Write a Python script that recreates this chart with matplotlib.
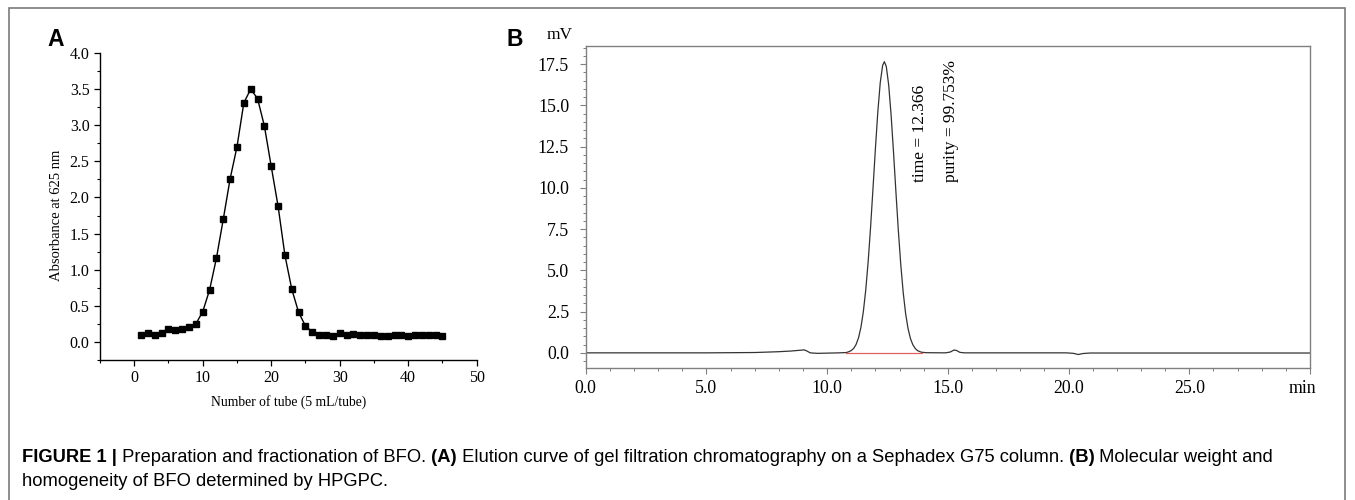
import matplotlib
matplotlib.use("Agg")
import matplotlib.pyplot as plt
import matplotlib.transforms as mtransforms
from matplotlib.ticker import MultipleLocator, FixedLocator, FormatStrFormatter
from matplotlib.patches import Rectangle

# ---------------- data ----------------
tube_numbers = list(range(1, 46))
absorbance = [0.09, 0.13, 0.09, 0.12, 0.18, 0.16, 0.18, 0.20, 0.25, 0.42,
              0.72, 1.16, 1.70, 2.26, 2.70, 3.31, 3.50, 3.37, 2.99, 2.43,
              1.88, 1.20, 0.73, 0.41, 0.22, 0.14, 0.09, 0.09, 0.08, 0.12,
              0.09, 0.11, 0.09, 0.09, 0.09, 0.08, 0.08, 0.09, 0.09, 0.08,
              0.09, 0.09, 0.10, 0.09, 0.08]

hpgpc_time = [0.0, 5.0, 7.0, 8.0, 8.5, 8.9, 9.05, 9.15, 9.3, 9.6, 10.5,
              10.8, 10.9, 11.0, 11.1, 11.2, 11.3, 11.4, 11.5, 11.6, 11.7,
              11.8, 11.9, 12.0, 12.1, 12.2, 12.3, 12.37, 12.45, 12.55, 12.65,
              12.75, 12.85, 12.95, 13.05, 13.15, 13.25, 13.35, 13.45, 13.55,
              13.65, 13.75, 13.9, 14.1, 14.9, 15.1, 15.25, 15.35, 15.5, 15.7,
              19.9, 20.2, 20.4, 20.6, 20.9, 30.0]
hpgpc_mv = [0.0, 0.0, 0.02, 0.07, 0.11, 0.16, 0.18, 0.12, 0.0, -0.03, 0.0,
            0.02, 0.07, 0.14, 0.27, 0.51, 0.91, 1.55, 2.50, 3.82, 5.54,
            7.63, 9.98, 12.39, 14.62, 16.38, 17.43, 17.65, 17.36, 16.23, 14.41,
            12.15, 9.73, 7.40, 5.35, 3.67, 2.39, 1.48, 0.87, 0.49,
            0.26, 0.13, 0.04, 0.01, 0.0, 0.05, 0.17, 0.15, 0.03, 0.0,
            0.0, -0.03, -0.10, -0.04, -0.01, -0.01]
baseline_start, baseline_end = 10.8, 13.95
peak_time_label = "time = 12.366"
purity_label = "purity = 99.753%"

a_xticks = [0, 10, 20, 30, 40, 50]
a_yticks = [0.0, 0.5, 1.0, 1.5, 2.0, 2.5, 3.0, 3.5, 4.0]
b_xticks = [0, 5, 10, 15, 20, 25, 30]
b_xticklabels = ["0.0", "5.0", "10.0", "15.0", "20.0", "25.0", "min"]
b_yticks = [0.0, 2.5, 5.0, 7.5, 10.0, 12.5, 15.0, 17.5]

caption_line1 = [("FIGURE 1 |", True),
                 (" Preparation and fractionation of BFO.", False),
                 (" (A)", True),
                 (" Elution curve of gel filtration chromatography on a Sephadex G75 column.", False),
                 (" (B)", True),
                 (" Molecular weight and", False)]
caption_line2 = "homogeneity of BFO determined by HPGPC."

# ---------------- figure ----------------
W, H = 1355, 500
fig = plt.figure(figsize=(W / 100, H / 100), dpi=100)
serif = ["Liberation Serif", "DejaVu Serif"]
sans = ["Liberation Sans", "DejaVu Sans"]

def fx(px):
    return px / W

def fy(py):
    return 1 - py / H

# outer frame
fig.patches.append(Rectangle((fx(9), fy(520)), fx(1345) - fx(9), fy(8) - fy(520),
                             transform=fig.transFigure, fill=False,
                             edgecolor="#7a7a7a", lw=1.2, clip_on=False))

# ---------- panel A ----------
axA = fig.add_axes([fx(100), fy(360), fx(476.7) - fx(100), fy(53) - fy(360)])
axA.plot(tube_numbers, absorbance, color="black", lw=1.0, marker="s",
         markersize=4.2, markerfacecolor="black", markeredgecolor="black")
axA.set_xlim(-5, 50)
axA.set_ylim(-0.25, 4.0)
axA.spines["top"].set_visible(False)
axA.spines["right"].set_visible(False)
for s in ("left", "bottom"):
    axA.spines[s].set_linewidth(1.0)
axA.xaxis.set_major_locator(FixedLocator(a_xticks))
axA.xaxis.set_minor_locator(MultipleLocator(5))
axA.yaxis.set_major_locator(FixedLocator(a_yticks))
axA.yaxis.set_minor_locator(MultipleLocator(0.25))
axA.yaxis.set_major_formatter(FormatStrFormatter("%.1f"))
axA.tick_params(which="major", direction="out", length=4.5, width=0.9, pad=3)
axA.tick_params(which="minor", direction="out", length=2.5, width=0.8)
for lab in axA.get_xticklabels() + axA.get_yticklabels():
    lab.set_family(serif)
    lab.set_fontsize(11.5)
axA.set_xlabel("Number of tube (5 mL/tube)", family=serif, fontsize=9.8)
axA.set_ylabel("Absorbance at 625 nm", family=serif, fontsize=10.5)
axA.xaxis.set_label_coords(0.5, (360 - 402) / 307, transform=axA.transAxes)
axA.yaxis.set_label_coords((57 - 100) / 376.7, 0.5 - (215.5 - 206.5) / 307)
axA.xaxis.label.set_va("center")
axA.yaxis.label.set_va("center")
fig.text(fx(47), fy(40), "A", family=sans, fontweight="bold", fontsize=16.5,
         ha="left", va="center")

# ---------- panel B ----------
axB = fig.add_axes([fx(585.7), fy(367.7), fx(1310) - fx(585.7), fy(46) - fy(367.7)])
axB.plot(hpgpc_time, hpgpc_mv, color="#333333", lw=0.9)
axB.plot([baseline_start, baseline_end], [0, 0], color="#e06060", lw=0.9)
axB.set_xlim(0, 30)
axB.set_ylim(-0.9, 18.6)
for s in axB.spines.values():
    s.set_color("#808080")
    s.set_linewidth(1.0)
axB.xaxis.set_major_locator(FixedLocator(b_xticks))
axB.set_xticklabels(b_xticklabels)
axB.xaxis.set_minor_locator(MultipleLocator(1))
axB.yaxis.set_major_locator(FixedLocator(b_yticks))
axB.yaxis.set_major_formatter(FormatStrFormatter("%.1f"))
axB.yaxis.set_minor_locator(MultipleLocator(0.5))
axB.tick_params(which="major", direction="out", length=4, width=0.8,
                color="#808080")
axB.tick_params(axis="y", which="major", pad=8)
axB.tick_params(axis="x", which="major", pad=5)
axB.tick_params(which="minor", direction="out", length=2.5, width=0.7,
                color="#808080")
for lab in axB.get_xticklabels() + axB.get_yticklabels():
    lab.set_family(serif)
    lab.set_fontsize(12.8)
# shift the "min" label slightly left, as in the original
min_label = axB.get_xticklabels()[-1]
min_label.set_transform(min_label.get_transform() +
                        mtransforms.ScaledTranslation(-8 / 100, 0, fig.dpi_scale_trans))
axB.text(13.83, 10.36, peak_time_label, rotation=90, ha="center", va="bottom",
         family=serif, fontsize=12.5)
axB.text(15.14, 10.36, purity_label, rotation=90, ha="center", va="bottom",
         family=serif, fontsize=12.5)
fig.text(fx(560), fy(35), "mV", family=serif, fontsize=12.5, ha="center", va="center")
fig.text(fx(507), fy(40), "B", family=sans, fontweight="bold", fontsize=16.5,
         ha="left", va="center")

# ---------- caption ----------
cap_size = 13.2
renderer = fig.canvas.get_renderer()
xpos = 22
for seg, bold in caption_line1:
    t = fig.text(fx(xpos), fy(458), seg, family=sans,
                 fontweight="bold" if bold else "normal",
                 fontsize=cap_size, ha="left", va="center")
    bb = t.get_window_extent(renderer=renderer)
    xpos = bb.x1
fig.text(fx(22), fy(481), caption_line2, family=sans, fontsize=cap_size,
         ha="left", va="center")

fig.savefig("out.png", dpi=100)
